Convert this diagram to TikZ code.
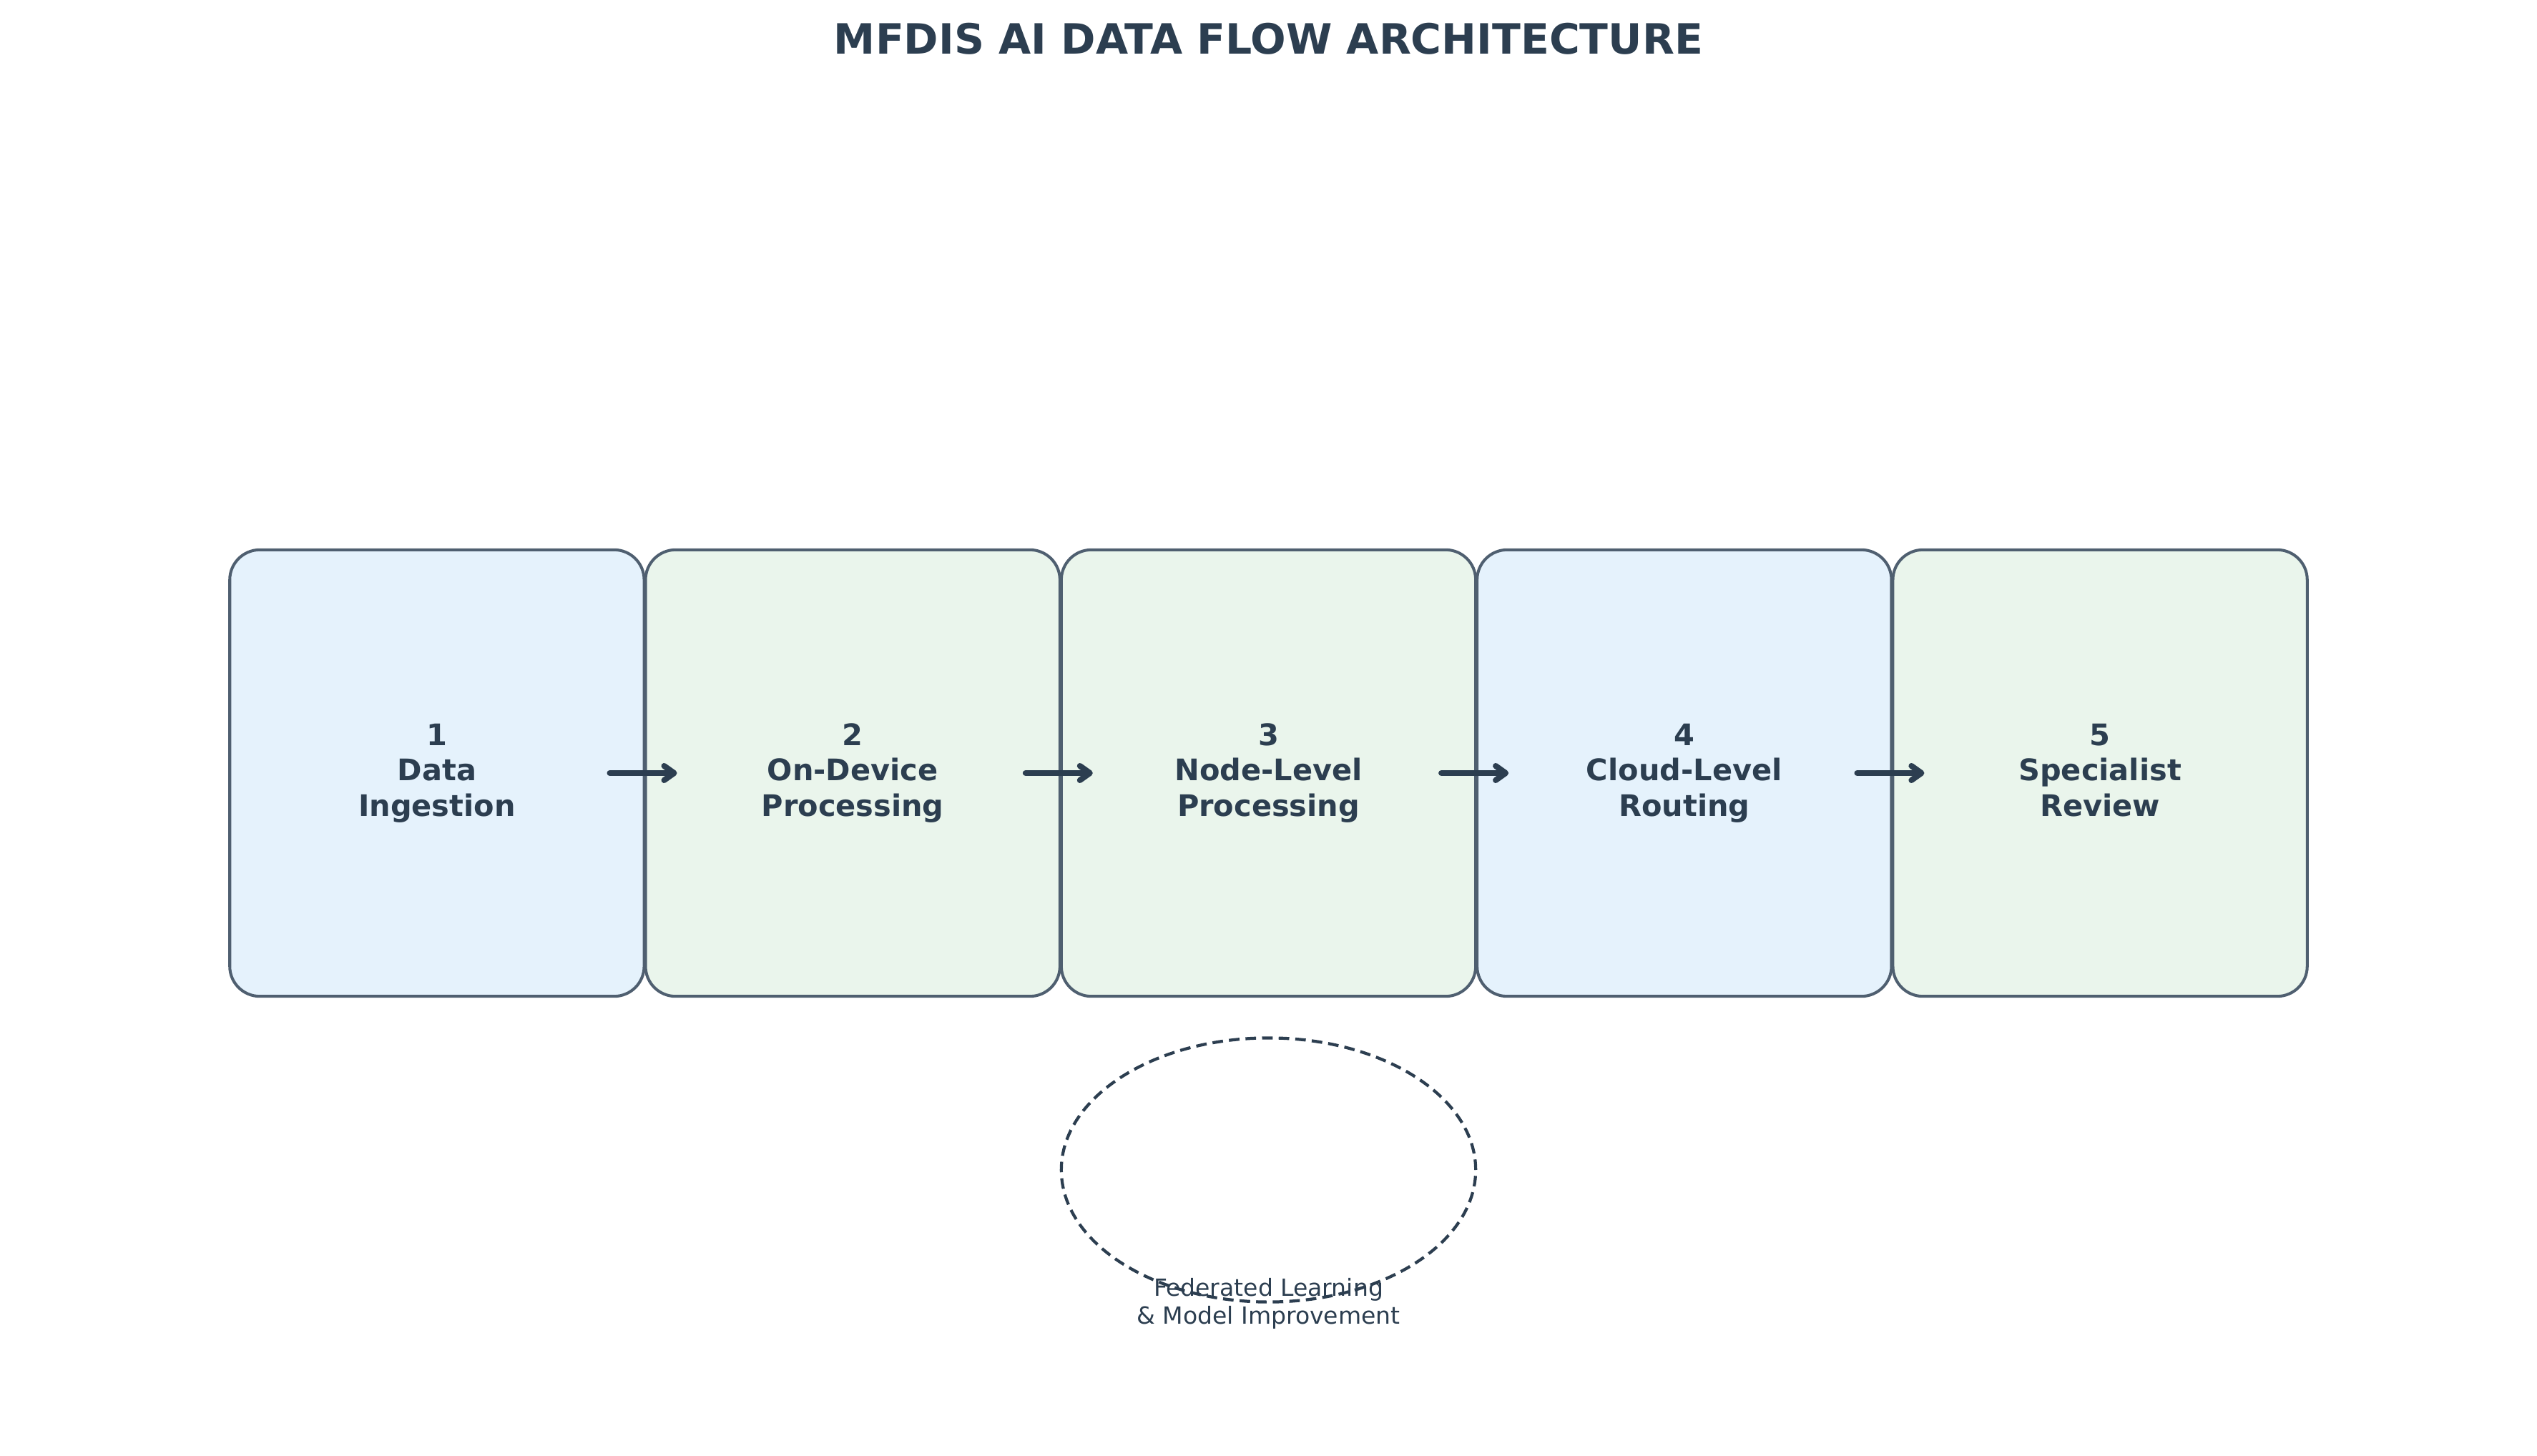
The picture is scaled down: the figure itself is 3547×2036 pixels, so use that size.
\documentclass[tikz,border=0pt]{standalone}
\usepackage{fontspec}
\setmainfont{DejaVu Sans}
\usetikzlibrary{arrows.meta,shapes.geometric}
\definecolor{txt}{HTML}{2C3E50}
\definecolor{edge}{HTML}{4F5F70}
\definecolor{fblue}{HTML}{E5F2FC}
\definecolor{fgreen}{HTML}{EAF5EC}
\tikzset{
  stage/.style={draw=edge, line width=1.15pt, rounded corners=0.42cm,
    minimum width=5.79cm, minimum height=6.24cm, inner sep=0pt,
    align=center, text=txt, font=\fontsize{11.8pt}{14.1pt}\selectfont\bfseries},
  bluebox/.style={stage, fill=fblue},
  greenbox/.style={stage, fill=fgreen},
  flowarrow/.style={draw=txt, line width=2.3pt, line cap=round,
    -{Straight Barb[length=0.14cm, width=0.2cm, round]}},
}
\begin{document}
\begin{tikzpicture}[x=0.01cm, y=-0.01cm]
\useasboundingbox (0,0) rectangle (3547,2036);
\node[font=\fontsize{16.6pt}{19pt}\selectfont\bfseries, text=txt] (title) at (1773.5,54) {MFDIS AI DATA FLOW ARCHITECTURE};
\node[bluebox]  (b1) at (610.9,1081)  {1\\Data\\Ingestion};
\node[greenbox] (b2) at (1192.2,1081) {2\\On-Device\\Processing};
\node[greenbox] (b3) at (1773.5,1081) {3\\Node-Level\\Processing};
\node[bluebox]  (b4) at (2354.8,1081) {4\\Cloud-Level\\Routing};
\node[greenbox] (b5) at (2936.1,1081) {5\\Specialist\\Review\vphantom{g}};
\foreach \a/\b in {b1/b2,b2/b3,b3/b4,b4/b5}{
  \draw[flowarrow] ([xshift=-0.5cm]\a.east) -- ([xshift=0.46cm]\b.west);
}
\node[ellipse, draw=txt, line width=1.2pt, dash pattern=on 4.2pt off 2.4pt,
  minimum width=5.79cm, minimum height=3.69cm, inner sep=0pt] (fl) at (1773.5,1636) {};
\node[align=center, text=txt, font=\fontsize{9.4pt}{11.1pt}\selectfont] (fllabel) at (1773.5,1823) {Federated Learning\\\& Model Improvement};
\end{tikzpicture}
\end{document}
